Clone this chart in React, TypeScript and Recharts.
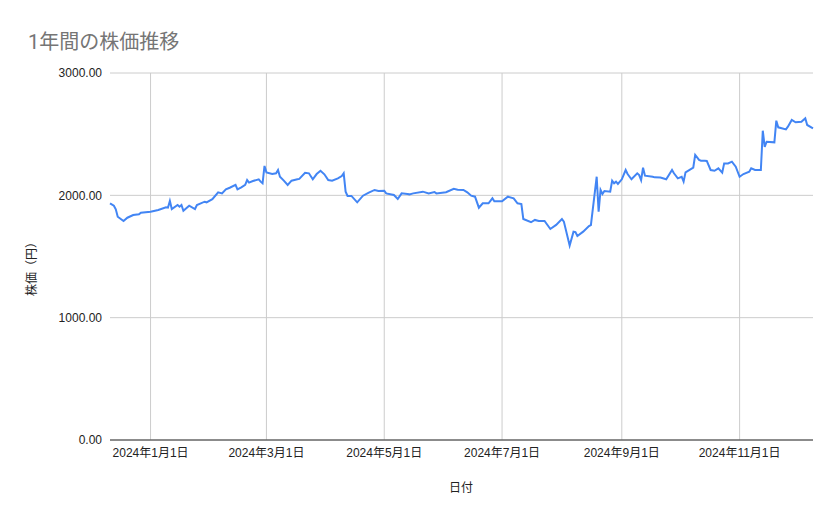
import React from "react";
import { LineChart, Line, XAxis, YAxis, CartesianGrid, ReferenceLine } from "recharts";

const dates = [
    "2023-12-11", "2023-12-13", "2023-12-14", "2023-12-15", "2023-12-18", "2023-12-20", "2023-12-23",
    "2023-12-26", "2023-12-27", "2024-01-01", "2024-01-05", "2024-01-09", "2024-01-10", "2024-01-11",
    "2024-01-12", "2024-01-15", "2024-01-16", "2024-01-17", "2024-01-18", "2024-01-21", "2024-01-24",
    "2024-01-25", "2024-01-29", "2024-01-30", "2024-02-02", "2024-02-05", "2024-02-07", "2024-02-09",
    "2024-02-11", "2024-02-14", "2024-02-15", "2024-02-17", "2024-02-19", "2024-02-20", "2024-02-21",
    "2024-02-23", "2024-02-26", "2024-02-27", "2024-02-28", "2024-02-29", "2024-03-01", "2024-03-04",
    "2024-03-06", "2024-03-07", "2024-03-08", "2024-03-10", "2024-03-12", "2024-03-14", "2024-03-17",
    "2024-03-18", "2024-03-21", "2024-03-23", "2024-03-25", "2024-03-27", "2024-03-29", "2024-03-31",
    "2024-04-02", "2024-04-04", "2024-04-07", "2024-04-09", "2024-04-10", "2024-04-11", "2024-04-12",
    "2024-04-14", "2024-04-17", "2024-04-20", "2024-04-23", "2024-04-26", "2024-04-28", "2024-05-01",
    "2024-05-02", "2024-05-06", "2024-05-08", "2024-05-10", "2024-05-13", "2024-05-14", "2024-05-16",
    "2024-05-21", "2024-05-24", "2024-05-27", "2024-05-28", "2024-06-02", "2024-06-06", "2024-06-08",
    "2024-06-11", "2024-06-13", "2024-06-15", "2024-06-17", "2024-06-19", "2024-06-21", "2024-06-24",
    "2024-06-26", "2024-06-27", "2024-07-01", "2024-07-04", "2024-07-07", "2024-07-09", "2024-07-11",
    "2024-07-12", "2024-07-16", "2024-07-18", "2024-07-20", "2024-07-23", "2024-07-26", "2024-07-29",
    "2024-08-01", "2024-08-02", "2024-08-05", "2024-08-07", "2024-08-08", "2024-08-09", "2024-08-12",
    "2024-08-15", "2024-08-16", "2024-08-19", "2024-08-20", "2024-08-21", "2024-08-22", "2024-08-23",
    "2024-08-26", "2024-08-27", "2024-08-28", "2024-08-29", "2024-08-30", "2024-09-01", "2024-09-03",
    "2024-09-04", "2024-09-06", "2024-09-09", "2024-09-10", "2024-09-11", "2024-09-12", "2024-09-13",
    "2024-09-17", "2024-09-18", "2024-09-21", "2024-09-24", "2024-09-27", "2024-09-28", "2024-09-30",
    "2024-10-02", "2024-10-03", "2024-10-04", "2024-10-08", "2024-10-09", "2024-10-11", "2024-10-12",
    "2024-10-14", "2024-10-15", "2024-10-17", "2024-10-19", "2024-10-21", "2024-10-23", "2024-10-24",
    "2024-10-26", "2024-10-28", "2024-10-30", "2024-11-01", "2024-11-03", "2024-11-06", "2024-11-07",
    "2024-11-09", "2024-11-12", "2024-11-13", "2024-11-14", "2024-11-15", "2024-11-19", "2024-11-20",
    "2024-11-21", "2024-11-25", "2024-11-26", "2024-11-28", "2024-11-30", "2024-12-03", "2024-12-05",
    "2024-12-06", "2024-12-09",
];

const prices = [
    1935, 1915, 1886, 1825, 1790, 1817, 1839,
    1845, 1858, 1866, 1880, 1902, 1899, 1954,
    1888, 1921, 1907, 1921, 1874, 1915, 1888,
    1921, 1948, 1943, 1968, 2025, 2016, 2049,
    2062, 2085, 2049, 2065, 2085, 2125, 2104,
    2117, 2131, 2112, 2098, 2240, 2188, 2174,
    2180, 2207, 2152, 2120, 2085, 2120, 2131,
    2134, 2185, 2180, 2131, 2174, 2201, 2172,
    2125, 2120, 2139, 2158, 2180, 2030, 1995,
    1995, 1943, 1997, 2022, 2044, 2035, 2038,
    2016, 2003, 1970, 2016, 2011, 2008, 2016,
    2030, 2016, 2027, 2016, 2025, 2054, 2046,
    2044, 2025, 1997, 1989, 1899, 1935, 1935,
    1976, 1951, 1951, 1989, 1976, 1935, 1929,
    1807, 1780, 1799, 1790, 1790, 1725, 1758,
    1807, 1785, 1590, 1703, 1700, 1668, 1703,
    1749, 1757, 2152, 1866, 2044, 2011, 2035,
    2030, 2120, 2098, 2112, 2093, 2131, 2207,
    2174, 2131, 2180, 2166, 2125, 2226, 2161,
    2152, 2147, 2145, 2131, 2207, 2180, 2139,
    2152, 2112, 2188, 2226, 2330, 2289, 2283,
    2283, 2281, 2207, 2201, 2221, 2185, 2261,
    2261, 2275, 2234, 2152, 2174, 2193, 2221,
    2207, 2207, 2528, 2397, 2438, 2433, 2610,
    2556, 2539, 2561, 2616, 2597, 2602, 2630,
    2575, 2548,
];

const xTickDates = ["2024-01-01", "2024-03-01", "2024-05-01", "2024-07-01", "2024-09-01", "2024-11-01"];
const yTicks = [0, 1000, 2000, 3000];

const data = dates.map((d, i) => ({ t: Date.parse(d), price: prices[i] }));
const xTicks = xTickDates.map((d) => Date.parse(d));

const FONT = "Arial, 'Liberation Sans', 'Noto Sans CJK JP', sans-serif";

function formatDate(t: number) {
    const d = new Date(t);
    return `${d.getUTCFullYear()}年${d.getUTCMonth() + 1}月${d.getUTCDate()}日`;
}

export default function App() {
    return (
        <div
            style={{
                position: "absolute",
                left: 0,
                top: 0,
                width: 839,
                height: 519,
                background: "#ffffff",
                fontFamily: FONT,
            }}
        >
            <div
                style={{
                    position: "absolute",
                    left: 28,
                    top: 26,
                    fontSize: 20,
                    color: "#757575",
                    fontFamily: "Roboto, 'Noto Sans CJK JP', sans-serif",
                    whiteSpace: "nowrap",
                }}
            >
                1年間の株価推移
            </div>
            <LineChart
                width={839}
                height={519}
                data={data}
                margin={{ top: 73, right: 26, left: 0, bottom: 49 }}
            >
                <CartesianGrid stroke="#cccccc" vertical={false} />
                {xTicks.map((t) => (
                    <ReferenceLine key={t} x={t} stroke="#cccccc" />
                ))}
                <XAxis
                    dataKey="t"
                    type="number"
                    scale="time"
                    domain={["dataMin", "dataMax"]}
                    ticks={xTicks}
                    tickFormatter={formatDate}
                    height={30}
                    tickLine={false}
                    axisLine={{ stroke: "#333333" }}
                    tick={{ fontSize: 12, fill: "#222222", fontFamily: FONT }}
                    label={() => (
                        <text x={461} y={492} textAnchor="middle" fontSize={12} fill="#222222" fontFamily={FONT}>
                            日付
                        </text>
                    )}
                />
                <YAxis
                    type="number"
                    domain={[0, 3000]}
                    ticks={yTicks}
                    tickFormatter={(v: number) => v.toFixed(2)}
                    width={110}
                    tickLine={false}
                    axisLine={false}
                    tick={{ fontSize: 12, fill: "#222222", fontFamily: FONT }}
                    label={() => (
                        <text
                            x={36}
                            y={266}
                            transform="rotate(-90 36 266)"
                            textAnchor="middle"
                            fontSize={12}
                            fill="#222222"
                            fontFamily={FONT}
                        >
                            株価（円）
                        </text>
                    )}
                />
                <Line
                    type="linear"
                    dataKey="price"
                    stroke="#4285f4"
                    strokeWidth={2}
                    dot={false}
                    isAnimationActive={false}
                />
            </LineChart>
        </div>
    );
}
